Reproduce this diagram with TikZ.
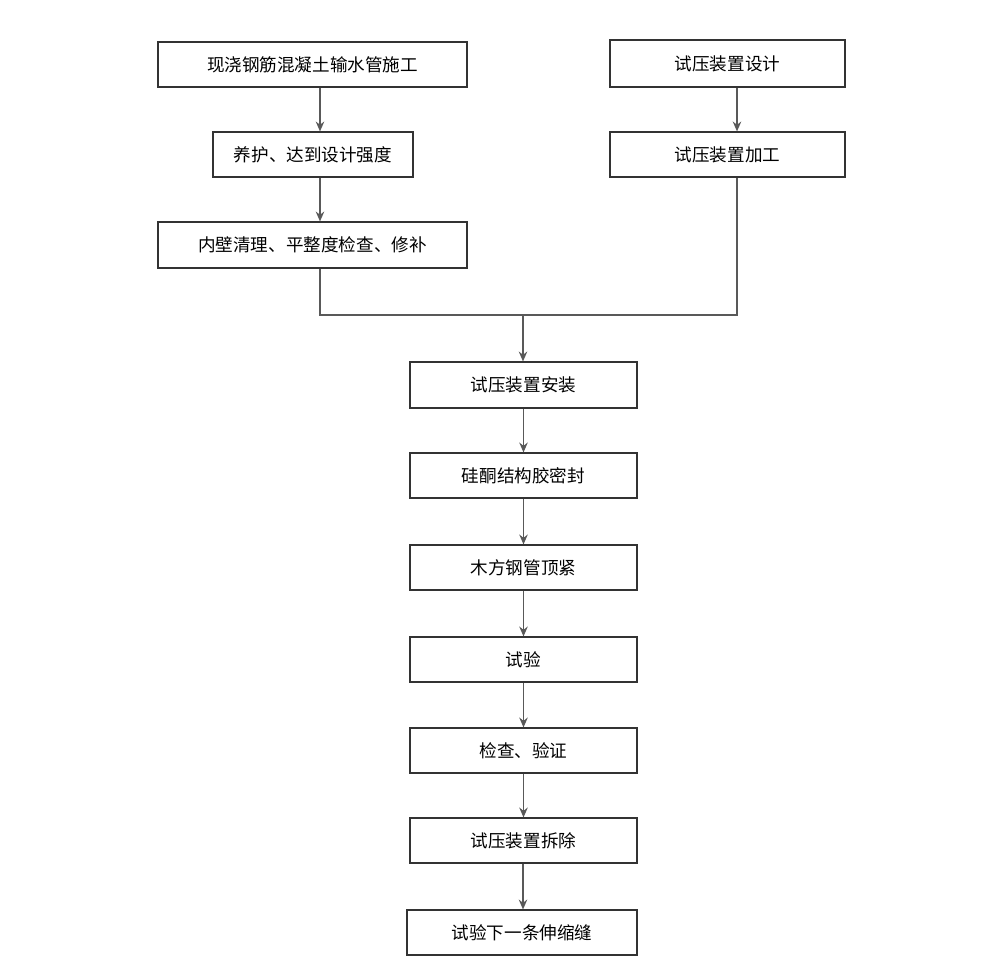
\documentclass[tikz,border=0pt]{standalone}
\usepackage{fontspec}
\newfontfamily\cjk{Noto Sans CJK SC}
\usetikzlibrary{arrows.meta}
\begin{document}
\begin{tikzpicture}[x=0.025cm,y=-0.025cm,
  box/.style={draw=black!80,line width=0.8pt,fill=white,inner sep=0pt,font=\cjk\fontsize{12.5pt}{14pt}\selectfont},
  ln/.style={draw=black!65,line width=1.2pt},
  arr/.style={ln,-{Stealth[length=7pt,width=6pt]}}]
\useasboundingbox (0,0) rectangle (1004,975);
\newcommand{\bx}[6]{\node[box,minimum width={(#4-#2)*0.025cm},minimum height={(#5-#3)*0.025cm}] (#1) at ({(#2+#4)/2},{(#3+#5)/2}) {#6};}
\bx{a}{158}{42}{467}{87}{现浇钢筋混凝土输水管施工}
\bx{b}{213}{132}{413}{177}{养护、达到设计强度}
\bx{c}{158}{222}{467}{268}{内壁清理、平整度检查、修补}
\bx{d}{610}{40}{845}{87}{试压装置设计}
\bx{e}{610}{132}{845}{177}{试压装置加工}
\bx{f}{410}{362}{637}{408}{试压装置安装}
\bx{g}{410}{453}{637}{498}{硅酮结构胶密封}
\bx{h}{410}{545}{637}{590}{木方钢管顶紧}
\bx{i}{410}{637}{637}{682}{试验}
\bx{j}{410}{728}{637}{773}{检查、验证}
\bx{k}{410}{818}{637}{863}{试压装置拆除}
\bx{l}{407}{910}{637}{955}{试验下一条伸缩缝}
\coordinate (m) at (523,315);
\draw[arr] (a.south -| 320,0) -- (b.north -| 320,0);
\draw[arr] (b.south -| 320,0) -- (c.north -| 320,0);
\draw[arr] (d.south -| 737,0) -- (e.north -| 737,0);
\draw[ln] (c.south -| 320,0) |- (m) -| (e.south -| 737,0);
\draw[arr] (m) -- (f.north -| m);
\draw[arr] (f) -- (g);
\draw[arr] (g) -- (h);
\draw[arr] (h) -- (i);
\draw[arr] (i) -- (j);
\draw[arr] (j) -- (k);
\draw[arr] (k.south -| m) -- (l.north -| m);
\end{tikzpicture}
\end{document}
